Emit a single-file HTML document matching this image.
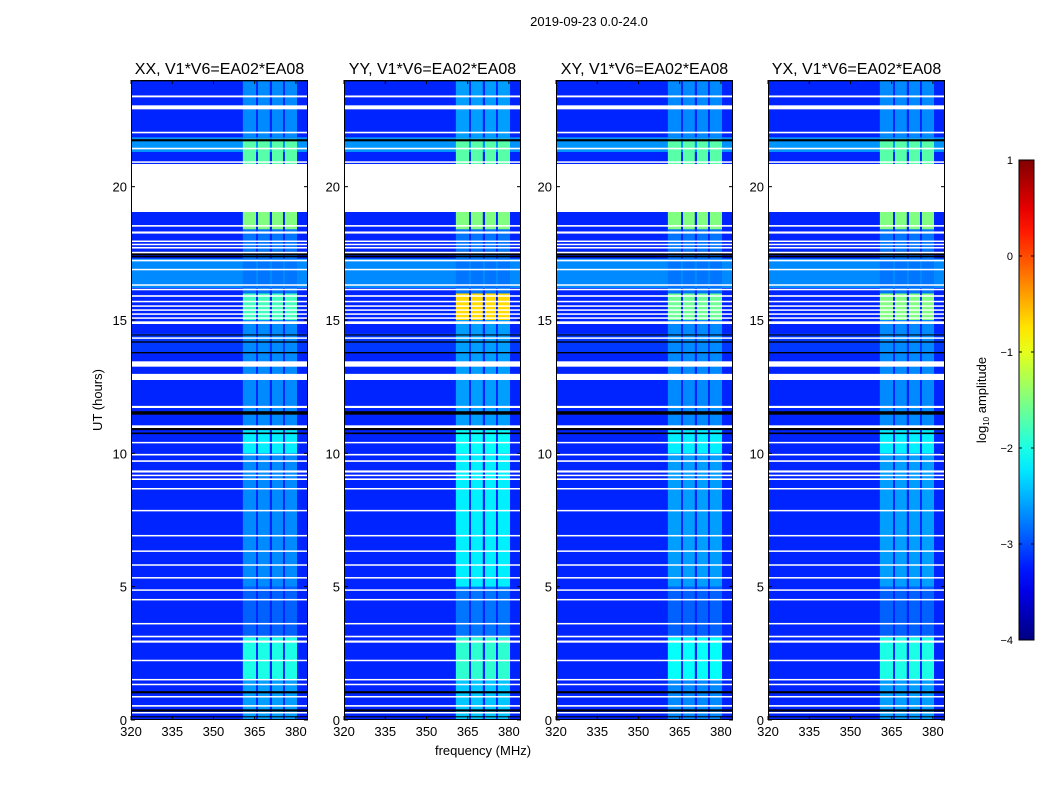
<!DOCTYPE html>
<html><head><meta charset="utf-8"><style>
body{margin:0;background:#fff;}
svg text{font-family:"Liberation Sans",sans-serif;fill:#000;}
</style></head><body>
<svg id="fig" width="1050" height="800" xmlns="http://www.w3.org/2000/svg">
<text x="589" y="26" font-size="13" text-anchor="middle">2019-09-23 0.0-24.0</text>
<text x="483" y="755" font-size="13" text-anchor="middle">frequency (MHz)</text>
<text transform="translate(102,400) rotate(-90)" font-size="13" text-anchor="middle">UT (hours)</text>
<g id="panels"></g>
<g id="cbar"></g>
</svg>
<script>
const panelTitles=["XX, V1*V6=EA02*EA08","YY, V1*V6=EA02*EA08","XY, V1*V6=EA02*EA08","YX, V1*V6=EA02*EA08"];
const panelX=[131,344,556,768];
const xTicks=[320,335,350,365,380];
const yTicks=[0,5,10,15,20];
const cbarTicks=[1,0,-1,-2,-3,-4];
// background log10 amplitude per time band [t0,t1,value]
const bgBands=[[0,24,-3.2],[16.2,17.3,-2.7],[21.3,21.85,-2.65],[13.8,14.5,-3.1]];
// RFI channels in MHz
const rfiChannels=[[360.7,365.5],[366.2,370.5],[371.3,375.3],[376,380.4]];
// RFI level per time band, per panel (XX,YY,XY,YX)
const rfiBands=[[0,1.5,-2.6,-2.4,-2.7,-2.6],[1.5,3.1,-2.0,-1.9,-2.1,-2.0],[3.1,5,-2.9,-2.8,-2.9,-2.9],[5,10,-2.7,-2.2,-2.6,-2.6],[10,10.9,-2.2,-2.1,-2.2,-2.2],[10.9,15,-2.7,-2.6,-2.7,-2.7],[15,16,-1.8,-0.7,-1.6,-1.5],[16,18.4,-2.8,-2.8,-2.8,-2.8],[18.4,19.1,-1.5,-1.5,-1.5,-1.5],[20.8,21.8,-1.7,-1.7,-1.7,-1.7],[21.8,24,-2.7,-2.6,-2.7,-2.7]];
// flagged (white) time intervals in hours
const whiteFlags=[[19.05,20.85],[23.35,23.42],[22.9,23.05],[22.0,22.06],[21.4,21.46],[20.9,20.95],[18.5,18.56],[18.24,18.32],[17.93,17.98],[17.81,17.86],[17.68,17.74],[17.5,17.56],[17.2,17.26],[16.87,16.92],[16.3,16.34],[16.12,16.17],[15.87,15.93],[15.67,15.72],[15.5,15.55],[15.35,15.4],[15.2,15.25],[15.05,15.1],[14.85,14.95],[14.3,14.35],[13.25,13.45],[12.75,12.98],[11.7,11.78],[10.95,11.05],[10.38,10.43],[9.92,9.98],[9.68,9.74],[9.28,9.36],[9.15,9.2],[9.0,9.06],[8.65,8.7],[7.84,7.88],[6.9,6.94],[6.32,6.36],[5.8,5.84],[5.32,5.36],[4.85,4.9],[4.5,4.54],[3.6,3.64],[3.1,3.16],[2.9,2.98],[2.22,2.26],[1.5,1.54],[1.32,1.36],[0.85,0.9],[0.5,0.56],[0.27,0.3]];
// dark (black) time intervals
const blackFlags=[[23.95,24],[21.7,21.78],[17.42,17.56],[17.35,17.4],[14.42,14.46],[14.15,14.2],[13.75,13.8],[11.45,11.58],[10.87,10.95],[10.72,10.78],[1.0,1.08],[0.32,0.4],[0.1,0.14]];

function jet(v){let t=(v+4)/5;t=Math.max(0,Math.min(1,t));
 const f=x=>Math.max(0,Math.min(1,x));
 const r=f(Math.min(4*t-1.5,-4*t+4.5)),g=f(Math.min(4*t-0.5,-4*t+3.5)),b=f(Math.min(4*t+0.5,-4*t+2.5));
 return `rgb(${Math.round(r*255)},${Math.round(g*255)},${Math.round(b*255)})`;}
const NS="http://www.w3.org/2000/svg";
function el(tag,attrs,parent){const e=document.createElementNS(NS,tag);for(const k in attrs)e.setAttribute(k,attrs[k]);parent.appendChild(e);return e;}
const yTop=80,yBot=720,W=177,fmin=320,fmax=384.4,tmax=24;
const yS=t=>yBot-(t/tmax)*(yBot-yTop);
const panels=document.getElementById('panels');
panelTitles.forEach((title,p)=>{
 const x0=panelX[p];const xS=f=>x0+(f-fmin)/(fmax-fmin)*W;
 const g=el('g',{},panels);
 
 
 const tt=el('text',{x:x0+W/2,y:74,'font-size':16,'text-anchor':'middle'},g);tt.textContent=title;
 
 
 bgBands.forEach(b=>{const r=el('rect',{x:x0,y:yS(b[1]),width:W,height:yS(b[0])-yS(b[1]),fill:jet(b[2])},g);
  
  });
 rfiBands.forEach(b=>{rfiChannels.forEach(c=>{const r=el('rect',{x:xS(c[0]),y:yS(b[1]),width:xS(c[1])-xS(c[0]),height:yS(b[0])-yS(b[1]),fill:jet(b[2+p])},g);
  
  });});
 blackFlags.forEach(b=>{const r=el('rect',{x:x0,y:yS(b[1]),width:W,height:Math.max(1,yS(b[0])-yS(b[1])),fill:'#000'},g);
  
  });
 whiteFlags.forEach(b=>{const r=el('rect',{x:x0,y:yS(b[1]),width:W,height:Math.max(1.5,yS(b[0])-yS(b[1])),fill:'#fff'},g);
  
  });
 const fr=el('rect',{x:x0+0.5,y:yTop+0.5,width:W-1,height:yBot-yTop-1,fill:'none',stroke:'#000','stroke-width':1},g);
 
 
 xTicks.forEach(v=>{const x=xS(v);el('line',{x1:x,x2:x,y1:yBot,y2:yBot-4,stroke:'#000'},g);el('line',{x1:x,x2:x,y1:yTop,y2:yTop+4,stroke:'#000'},g);
  const t=el('text',{x:x,y:yBot+16,'font-size':13,'text-anchor':'middle'},g);t.textContent=v;
  
  });
 yTicks.forEach(v=>{const y=yS(v);el('line',{x1:x0,x2:x0+4,y1:y,y2:y,stroke:'#000'},g);el('line',{x1:x0+W,x2:x0+W-4,y1:y,y2:y,stroke:'#000'},g);
  const t=el('text',{x:x0-4,y:y+5,'font-size':13,'text-anchor':'end'},g);t.textContent=v;
  
  });
});
// colorbar
const cb=document.getElementById('cbar');
const defs=el('defs',{},cb);const lg=el('linearGradient',{id:'jetg',x1:0,y1:1,x2:0,y2:0},defs);
for(let i=0;i<=20;i++){el('stop',{offset:i/20,'stop-color':jet(-4+5*i/20)},lg);}
const cy0=160,cy1=640,cx=1019,cw=15;
const cr=el('rect',{x:cx,y:cy0,width:cw,height:cy1-cy0,fill:'url(#jetg)',stroke:'#000','stroke-width':1},cb);


cbarTicks.forEach(v=>{const y=cy1-(v+4)/5*(cy1-cy0);el('line',{x1:cx,x2:cx+3,y1:y,y2:y,stroke:'#000'},cb);el('line',{x1:cx+cw,x2:cx+cw-3,y1:y,y2:y,stroke:'#000'},cb);
 const t=el('text',{x:cx-6,y:y+4,'font-size':11,'text-anchor':'end'},cb);t.textContent=(v<0?'\u2212'+(-v):v);
 
 });
const cl=el('text',{transform:'translate(986,400) rotate(-90)','font-size':13,'text-anchor':'middle'},cb);
cl.innerHTML='log<tspan font-size="8" dy="3">10</tspan><tspan dy="-3"> amplitude</tspan>';


</script>
</body></html>
